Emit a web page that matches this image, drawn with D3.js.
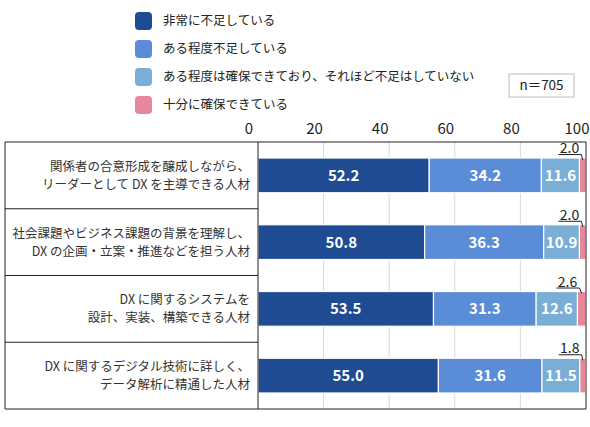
<!DOCTYPE html>
<html>
<head>
<meta charset="utf-8">
<script src="https://cdn.jsdelivr.net/npm/d3@7"></script>
<style>
  body { margin: 0; background: #fff; }
  text { font-family: "Noto Sans CJK JP", "Noto Sans", sans-serif; }
</style>
</head>
<body>
<div id="chart-area"></div>
<script>
// categories (two lines each)
let categories = [
    ["関係者の合意形成を醸成しながら、", "リーダーとして DX を主導できる人材"],
    ["社会課題やビジネス課題の背景を理解し、", "DX の企画・立案・推進などを担う人材"],
    ["DX に関するシステムを", "設計、実装、構築できる人材"],
    ["DX に関するデジタル技術に詳しく、", "データ解析に精通した人材"]
];
let seriesNames = [
    "非常に不足している",
    "ある程度不足している",
    "ある程度は確保できており、それほど不足はしていない",
    "十分に確保できている"
];
let verySort  = [52.2, 50.8, 53.5, 55.0];
let somewhat  = [34.2, 36.3, 31.3, 31.6];
let enough    = [11.6, 10.9, 12.6, 11.5];
let sufficient = [2.0, 2.0, 2.6, 1.8];
let xTicks = [0, 20, 40, 60, 80, 100];
let colors = ["#1f4b93", "#5b8cd8", "#79aed6", "#e8869b"];
let sampleLabel = "n＝705";

let width = 590, height = 427;
let margin = {left: 258, top: 142, right: 4, bottom: 18};
let plotW = width - margin.left - margin.right;
let plotH = height - margin.top - margin.bottom;

let svg = d3.select('#chart-area')
    .append('svg')
    .attr('width', width)
    .attr('height', height);

let rows = categories.map(function(c, i) {
    return { name: c, vals: [verySort[i], somewhat[i], enough[i], sufficient[i]] };
});

let x = d3.scaleLinear().domain([0, 100]).range([0, plotW]);
let y = d3.scaleBand()
    .domain(d3.range(rows.length))
    .range([0, plotH])
    .paddingInner(0.48)
    .paddingOuter(0.24);
let rowBand = d3.scaleBand().domain(d3.range(rows.length)).range([0, plotH]);

let g = svg.append('g').attr('transform', 'translate(' + margin.left + ',' + margin.top + ')');

// legend
let legend = svg.append('g').attr('transform', 'translate(135, 12)');
seriesNames.forEach(function(s, i) {
    legend.append('rect')
        .attr('x', 0).attr('y', i * 28)
        .attr('width', 17).attr('height', 18)
        .attr('rx', 4)
        .attr('fill', colors[i]);
    legend.append('text')
        .attr('x', 28).attr('y', i * 28 + 9)
        .attr('dy', '0.35em')
        .attr('font-size', '12.5px')
        .attr('fill', '#222')
        .text(s);
});

// n box
svg.append('rect')
    .attr('x', 509).attr('y', 74)
    .attr('width', 65).attr('height', 23)
    .attr('fill', '#fff').attr('stroke', '#bbb');
svg.append('text')
    .attr('x', 541.5).attr('y', 85.5)
    .attr('dy', '0.35em')
    .attr('text-anchor', 'middle')
    .attr('font-size', '13.5px')
    .attr('fill', '#222')
    .text(sampleLabel);

// gridlines
g.selectAll('.grid')
    .data(xTicks.slice(1, -1))
    .enter().append('line')
    .attr('x1', d => x(d)).attr('x2', d => x(d))
    .attr('y1', 0).attr('y2', plotH)
    .attr('stroke', '#d9d9d9');

// tick labels (top axis)
g.selectAll('.tick-label')
    .data(xTicks)
    .enter().append('text')
    .attr('x', d => x(d) - 9)
    .attr('y', -8)
    .attr('text-anchor', 'middle')
    .attr('font-size', '15px')
    .attr('fill', '#222')
    .text(d => d);

// stacked bars
rows.forEach(function(r, i) {
    let cum = 0;
    r.vals.forEach(function(v, k) {
        let x0 = cum;
        cum += v;
        g.append('rect')
            .attr('x', x(x0))
            .attr('y', y(i))
            .attr('width', x(cum) - x(x0))
            .attr('height', y.bandwidth())
            .attr('fill', colors[k])
            .attr('stroke', '#fff')
            .attr('stroke-width', 1.2);
        if (k < 3) {
            g.append('text')
                .attr('x', x(x0 + v / 2))
                .attr('y', y(i) + y.bandwidth() / 2)
                .attr('dy', '0.36em')
                .attr('text-anchor', 'middle')
                .attr('font-size', '15px')
                .attr('font-weight', 'bold')
                .attr('fill', '#fff')
                .text(v.toFixed(1));
        } else {
            // small value with leader line
            let lx = x(x0) - 10;
            let ly = y(i) - 3.5;
            g.append('text')
                .attr('x', lx)
                .attr('y', ly - 1.5)
                .attr('text-anchor', 'middle')
                .attr('font-size', '14px')
                .attr('fill', '#222')
                .text(v.toFixed(1));
            g.append('polyline')
                .attr('points', [[lx - 11, ly], [lx + 12, ly], [x(x0 + v / 2), y(i) + 2]].join(' '))
                .attr('fill', 'none')
                .attr('stroke', '#222')
                .attr('stroke-width', 1);
        }
    });
});

// category table
let table = svg.append('g').attr('transform', 'translate(0,' + margin.top + ')');
rows.forEach(function(r, i) {
    let cy = rowBand(i) + rowBand.bandwidth() / 2;
    r.name.forEach(function(line, j) {
        table.append('text')
            .attr('x', 250)
            .attr('y', cy + (j - 0.5) * 18)
            .attr('dy', '0.35em')
            .attr('text-anchor', 'end')
            .attr('font-size', '12.5px')
            .attr('fill', '#333')
            .text(line);
    });
    if (i > 0) {
        table.append('line')
            .attr('x1', 5).attr('x2', margin.left)
            .attr('y1', rowBand(i)).attr('y2', rowBand(i))
            .attr('stroke', '#222');
    }
});

// borders
svg.append('line')
    .attr('x1', 5).attr('x2', margin.left + plotW)
    .attr('y1', margin.top).attr('y2', margin.top)
    .attr('stroke', '#222');
svg.append('line')
    .attr('x1', 5).attr('x2', margin.left + plotW)
    .attr('y1', margin.top + plotH).attr('y2', margin.top + plotH)
    .attr('stroke', '#222');
[5, margin.left, margin.left + plotW].forEach(function(xx) {
    svg.append('line')
        .attr('x1', xx).attr('x2', xx)
        .attr('y1', margin.top).attr('y2', margin.top + plotH)
        .attr('stroke', '#222');
});
</script>
</body>
</html>
